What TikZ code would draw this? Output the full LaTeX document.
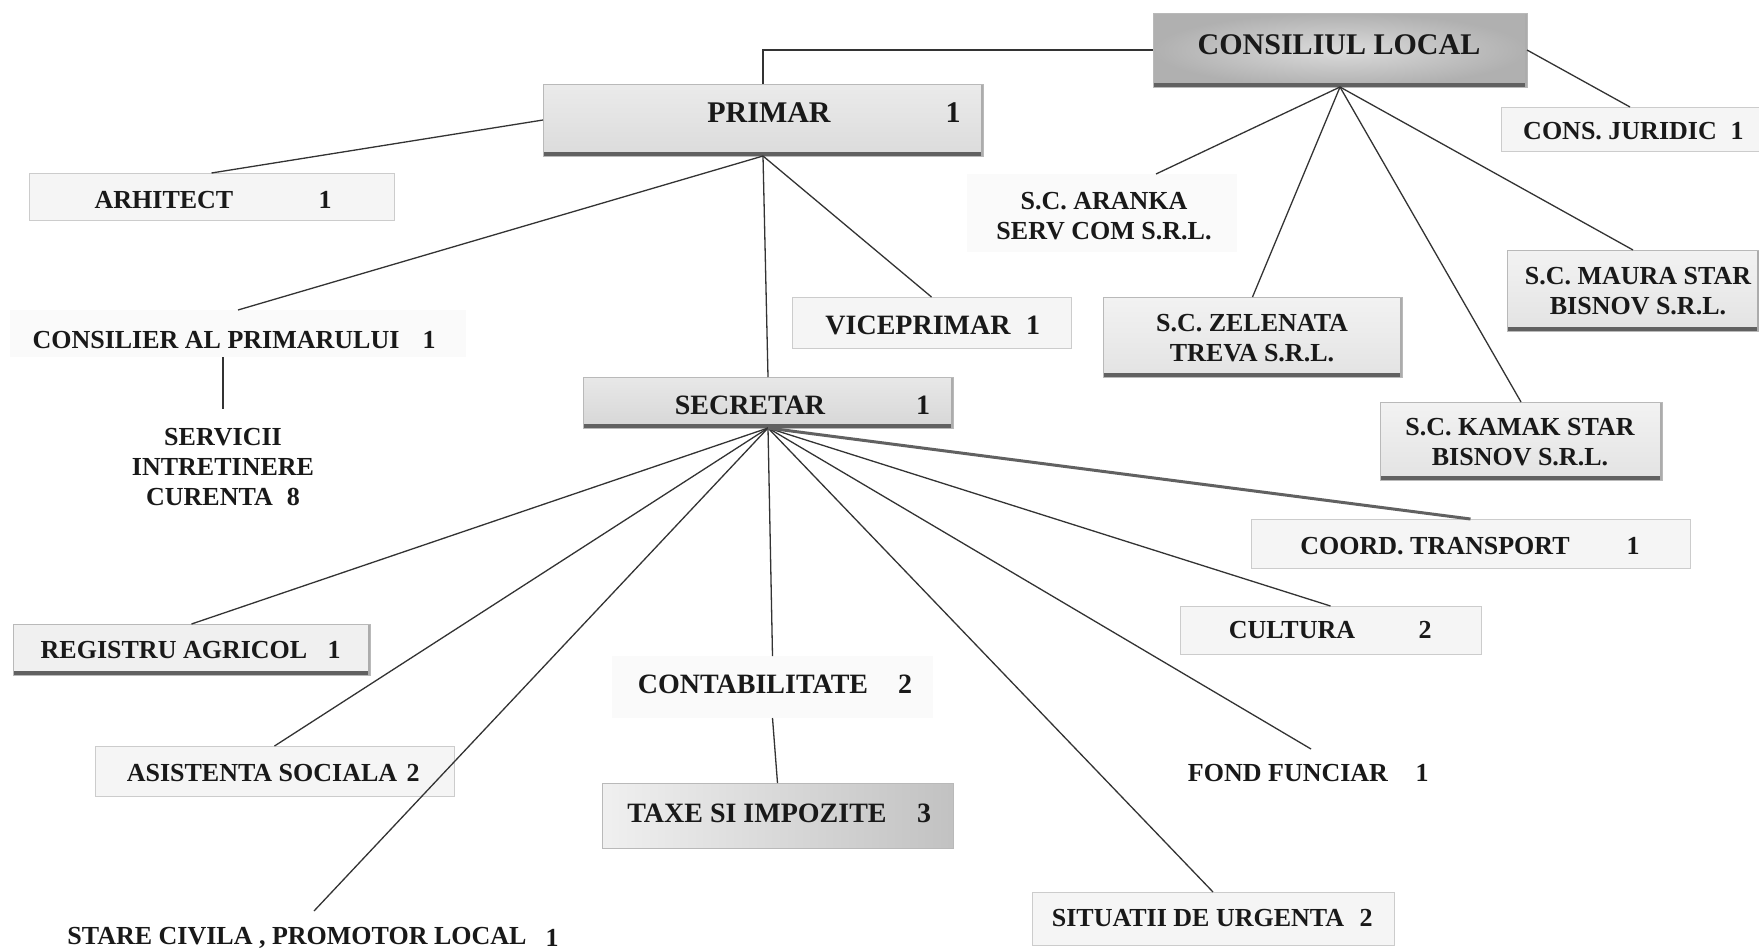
\documentclass[tikz,border=0pt]{standalone}
\usepackage{fontspec}
\setmainfont{Liberation Serif}
\usetikzlibrary{calc}
\begin{document}
\begin{tikzpicture}[x=1pt,y=-1pt,
  conn/.style={draw=black!80, line width=1.3pt},
  thickconn/.style={draw=black!62, line width=3pt},
  box/.style={rectangle, inner sep=0pt, outer sep=0pt, draw=gray!40, line width=0.8pt},
  lightbox/.style={box, fill=gray!8},
  faintbox/.style={rectangle, inner sep=0pt, outer sep=0pt, fill=gray!4},
  ghost/.style={rectangle, inner sep=0pt, outer sep=0pt},
  shadowed/.style={box, draw=gray!55, path picture={
     \fill[black!62] ([yshift=4pt]path picture bounding box.south west) rectangle (path picture bounding box.south east);
     \fill[gray!65] ([xshift=-2.5pt]path picture bounding box.north east) rectangle (path picture bounding box.south east);}},
  lbl/.style={inner sep=0pt, text=black!90, font=\bfseries\fontsize{26}{30}\selectfont, align=center},
  biglbl/.style={lbl, font=\bfseries\fontsize{30}{34}\selectfont},
  midlbl/.style={lbl, font=\bfseries\fontsize{28}{32}\selectfont},
]
\useasboundingbox (0,0) rectangle (1759,951);
\fill[white] (0,0) rectangle (1759,951);

% ---------- boxes ----------
\node[shadowed, inner color=gray!28, outer color=gray!62, minimum width=374pt, minimum height=74pt] (cl) at (1340,50) {};
\node[shadowed, top color=gray!16, bottom color=gray!28, minimum width=440pt, minimum height=72pt] (primar) at (763,120) {};
\node[lightbox, minimum width=365pt, minimum height=47pt] (arh) at (211.5,196.5) {};
\node[faintbox, minimum width=456pt, minimum height=47pt] (cons) at (238,333.5) {};
\node[ghost, minimum width=200pt, minimum height=106pt] (serv) at (223,462) {};
\node[shadowed, top color=gray!18, bottom color=gray!32, minimum width=370pt, minimum height=51pt] (secr) at (768,402.5) {};
\node[lightbox, minimum width=279pt, minimum height=51pt] (vice) at (931.5,322.5) {};
\node[lightbox, minimum width=258pt, minimum height=44pt] (jur) at (1630,129) {};
\node[faintbox, minimum width=270pt, minimum height=78pt] (aranka) at (1102,213) {};
\node[shadowed, top color=gray!10, bottom color=gray!22, minimum width=299pt, minimum height=80pt] (zel) at (1252.5,337) {};
\node[shadowed, top color=gray!10, bottom color=gray!22, minimum width=282pt, minimum height=78pt] (kamak) at (1521,441) {};
\node[shadowed, top color=gray!10, bottom color=gray!22, minimum width=252pt, minimum height=81pt] (maura) at (1633,290.5) {};
\node[shadowed, fill=gray!12, minimum width=357pt, minimum height=51pt] (reg) at (191.5,649.5) {};
\node[lightbox, minimum width=359pt, minimum height=50pt] (asist) at (274.5,771) {};
\node[ghost, minimum width=528pt, minimum height=40pt] (stare) at (314,931) {};
\node[faintbox, minimum width=321pt, minimum height=62pt] (contab) at (772.5,687) {};
\node[box, draw=gray!55, left color=gray!12, right color=gray!48, minimum width=351pt, minimum height=65pt] (taxe) at (777.5,815.5) {};
\node[ghost, minimum width=260pt, minimum height=50pt] (fond) at (1311,774) {};
\node[lightbox, minimum width=362pt, minimum height=53pt] (sit) at (1213,918.5) {};
\node[lightbox, minimum width=301pt, minimum height=48pt] (cult) at (1330.5,630) {};
\node[lightbox, minimum width=439pt, minimum height=49pt] (coord) at (1470.5,543.5) {};

% ---------- texts ----------
\node[biglbl] (cl-t) at (1339,45) {CONSILIUL LOCAL};
\node[biglbl] (primar-t) at (769,113) {PRIMAR};
\node[biglbl] (primar-n) at (953,113) {1};
\node[lbl] (arh-t) at (164,200) {ARHITECT};
\node[lbl] (arh-n) at (325,200) {1};
\node[lbl] (cons-t) at (216,340) {CONSILIER AL PRIMARULUI};
\node[lbl] (cons-n) at (429,340) {1};
\node[lbl] (serv-t) at (223,467) {SERVICII\\INTRETINERE\\CURENTA\hspace{14pt}8};
\node[midlbl] (secr-t) at (750,405) {SECRETAR};
\node[midlbl] (secr-n) at (923,405) {1};
\node[midlbl] (vice-t) at (918,325) {VICEPRIMAR};
\node[midlbl] (vice-n) at (1033,325) {1};
\node[lbl] (jur-t) at (1620,131) {CONS. JURIDIC};
\node[lbl] (jur-n) at (1737,131) {1};
\node[lbl] (aranka-t) at (1104,216) {S.C. ARANKA\\SERV COM S.R.L.};
\node[lbl] (zel-t) at (1252,338) {S.C. ZELENATA\\TREVA S.R.L.};
\node[lbl] (kamak-t) at (1520,442) {S.C. KAMAK STAR\\BISNOV S.R.L.};
\node[lbl] (maura-t) at (1638,291) {S.C. MAURA STAR\\BISNOV S.R.L.};
\node[lbl] (reg-t) at (174,650) {REGISTRU AGRICOL};
\node[lbl] (reg-n) at (334,650) {1};
\node[lbl] (asist-t) at (262,773) {ASISTENTA SOCIALA};
\node[lbl] (asist-n) at (413,773) {2};
\node[lbl] (stare-t) at (297,938) {STARE CIVILA , PROMOTOR LOCAL};
\node[lbl] (stare-n) at (552,938) {1};
\node[midlbl] (contab-t) at (753,684) {CONTABILITATE};
\node[midlbl] (contab-n) at (905,684) {2};
\node[midlbl] (taxe-t) at (757,813) {TAXE SI IMPOZITE};
\node[midlbl] (taxe-n) at (924,813) {3};
\node[lbl] (fond-t) at (1288,773) {FOND FUNCIAR};
\node[lbl] (fond-n) at (1422,773) {1};
\node[lbl] (sit-t) at (1198,918) {SITUATII DE URGENTA};
\node[lbl] (sit-n) at (1366,918) {2};
\node[lbl] (cult-t) at (1292,630) {CULTURA};
\node[lbl] (cult-n) at (1425,630) {2};
\node[lbl] (coord-t) at (1435,546) {COORD. TRANSPORT};
\node[lbl] (coord-n) at (1633,546) {1};

% ---------- connectors ----------
\draw[conn] (cl.west) -| (primar.north);
\draw[conn] (primar.west) -- (arh.north);
\draw[conn] (primar.south) -- (cons.north);
\draw[conn] (primar.south) -- (vice.north);
\draw[conn] (primar.south) -- (secr.north);
\draw[conn] (serv.north |- cons.south) -- (serv.north);

\draw[conn] (cl.east) -- (jur.north);
\draw[conn] (cl.south) -- ($(aranka.north west)!0.7!(aranka.north east)$);
\draw[conn] (cl.south) -- (zel.north);
\draw[conn] (cl.south) -- (kamak.north);
\draw[conn] (cl.south) -- (maura.north);

\draw[conn] (secr.south) -- (reg.north);
\draw[conn] (secr.south) -- (asist.north);
\draw[conn] (secr.south) -- (stare.north);
\draw[conn] (secr.south) -- (contab.north);
\draw[conn] (contab.south) -- (taxe.north);
\draw[conn] (secr.south) -- (sit.north);
\draw[conn] (secr.south) -- (fond.north);
\draw[conn] (secr.south) -- (cult.north);
\draw[thickconn] (secr.south) -- (coord.north);
\end{tikzpicture}
\end{document}
